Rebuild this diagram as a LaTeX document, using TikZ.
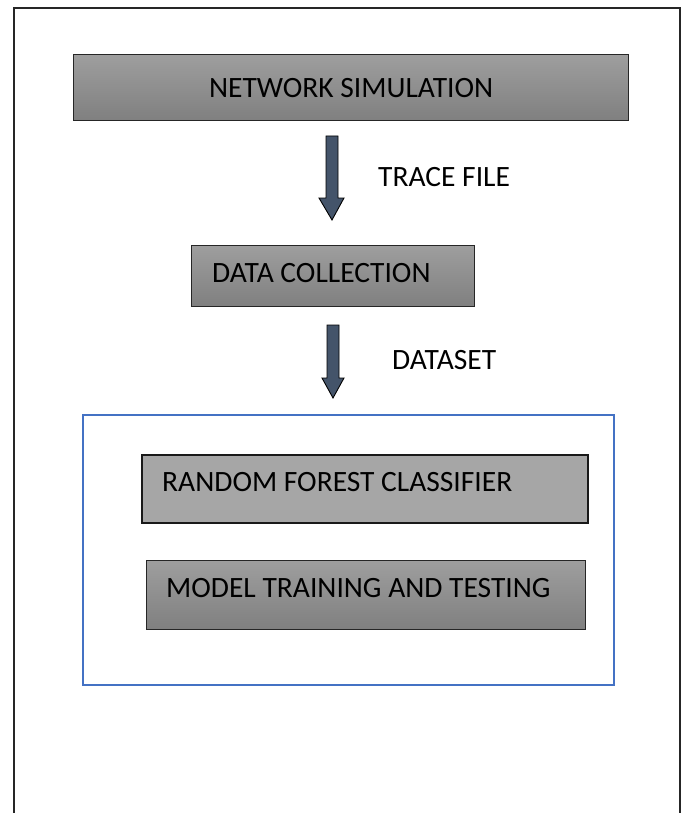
\documentclass[tikz,border=0pt]{standalone}
\usepackage{fontspec}
\setmainfont{Carlito}
\definecolor{arrowfill}{HTML}{44546A}
\definecolor{frameblue}{HTML}{4472C4}
\tikzset{
  x=1pt, y=-1pt,
  stagebox/.style={draw=black!85, line width=1.2pt, top color=black!38, bottom color=black!50, rectangle, inner sep=0pt, anchor=north west},
  flatbox/.style={draw=black!90, line width=1.5pt, fill=black!35, rectangle, inner sep=0pt, anchor=north west},
  flowarrow/.style={draw=black, line width=0.9pt, fill=arrowfill},
  lbl/.style={font=\fontsize{29.5}{34}\selectfont, inner sep=0pt},
}
\begin{document}
\begin{tikzpicture}
\useasboundingbox (0,0) rectangle (683,813);
% page frame, open at the bottom
\draw[line width=1.8pt, black!85] (14,820) -- (14,8) -- (680,8) -- (680,820);

% stages
\node[stagebox, minimum width=555pt, minimum height=66pt] (sim) at (73,54) {};
\node[lbl] at (sim.center) {NETWORK SIMULATION};

\node[stagebox, minimum width=283pt, minimum height=61pt] (coll) at (191,245) {};
\node[lbl, anchor=west] at (212,273) {DATA COLLECTION};

% model group
\node[draw=frameblue, line width=1.8pt, rectangle, minimum width=531pt, minimum height=270pt, anchor=north west, inner sep=0pt] (grp) at (82,414) {};
\node[flatbox, minimum width=446pt, minimum height=68pt] (rf) at (141,454) {};
\node[lbl, anchor=west] at (162,482) {RANDOM FOREST CLASSIFIER};
\node[stagebox, minimum width=439pt, minimum height=69pt] (mt) at (146,560) {};
\node[lbl, anchor=west] at (166,588) {MODEL TRAINING AND TESTING};

% block arrows between stages
\draw[flowarrow] (326,136) -- (338,136) -- (338,198) -- (344,198) -- (332,220) -- (319,198) -- (326,198) -- cycle;
\node[lbl, anchor=west] (tf) at (378,177) {TRACE FILE};

\draw[flowarrow] (327,325) -- (339,325) -- (339,378) -- (344,378) -- (333,398) -- (322,378) -- (327,378) -- cycle;
\node[lbl, anchor=west] (ds) at (392,360) {DATASET};
\end{tikzpicture}
\end{document}
